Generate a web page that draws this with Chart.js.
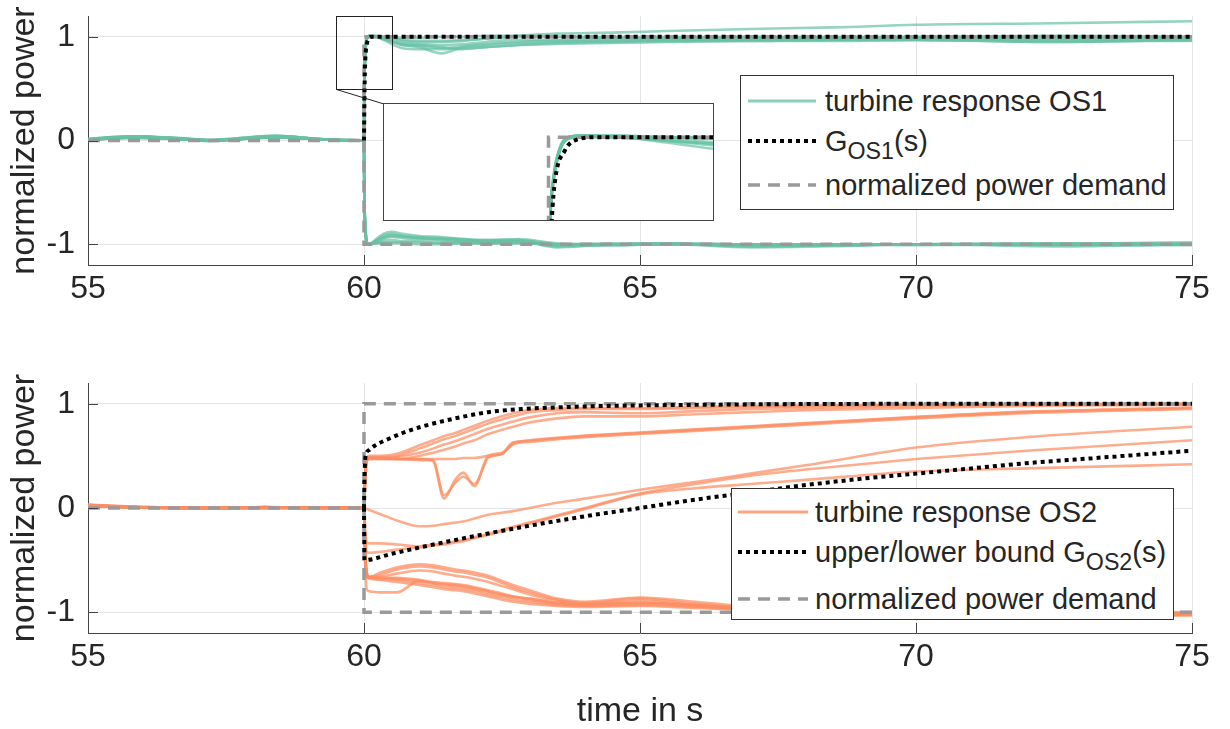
<!DOCTYPE html>
<html>
<head>
<meta charset="utf-8">
<title>Turbine response OS1 / OS2</title>
<script src="https://cdn.jsdelivr.net/npm/chart.js"></script>
<style>
    body {
        margin: 0;
        background: #fff;
        font-family: 'Liberation Sans', Arial, sans-serif;
        color: #262626;
    }
    #page { position: relative; width: 1230px; height: 729px; overflow: hidden; }
    .plot { position: absolute; left: 0; width: 1230px; }
    #topPlot { top: 0; height: 300px; }
    #bottomPlot { top: 370px; height: 359px; }
    #inset {
        position: absolute; left: 383px; top: 103px;
        width: 329px; height: 116px;
        border: 1px solid #444; background: #fff;
    }
    .legend {
        position: absolute; background: #fff; border: 1px solid #333;
        font-size: 29px;
    }
    .row {
        position: absolute; left: 0; right: 0; height: 40px;
        display: flex; align-items: center; white-space: nowrap;
    }
    .row svg { flex: none; }
    sub { font-size: 0.8em; vertical-align: -0.35em; line-height: 0; }
</style>
</head>
<body>
<div id="page">
    <div class="plot" id="topPlot"><canvas id="topChart"></canvas></div>
    <div class="plot" id="bottomPlot"><canvas id="bottomChart"></canvas></div>
    <div id="inset"><canvas id="insetChart"></canvas></div>

    <!-- top legend -->
    <div class="legend" style="left:740px; top:75px; width:432px; height:133px;">
        <div class="row" style="top:5px;">
            <svg width="77" height="10" style="margin-left:7px"><line x1="0" y1="5" x2="68" y2="5" stroke="rgba(102,194,165,0.75)" stroke-width="3"/></svg>
            <span>turbine response OS1</span>
        </div>
        <div class="row" style="top:45px;">
            <svg width="77" height="10" style="margin-left:7px"><line x1="0" y1="5" x2="68" y2="5" stroke="#000" stroke-width="4" stroke-dasharray="4 4"/></svg>
            <span>G<sub>OS1</sub>(s)</span>
        </div>
        <div class="row" style="top:89px;">
            <svg width="77" height="10" style="margin-left:7px"><line x1="0" y1="5" x2="68" y2="5" stroke="#999" stroke-width="3.5" stroke-dasharray="12 8"/></svg>
            <span>normalized power demand</span>
        </div>
    </div>

    <!-- bottom legend -->
    <div class="legend" style="left:731px; top:488px; width:441px; height:130px;">
        <div class="row" style="top:3px;">
            <svg width="77" height="10" style="margin-left:6px"><line x1="0" y1="5" x2="70" y2="5" stroke="rgba(252,141,98,0.8)" stroke-width="3"/></svg>
            <span>turbine response OS2</span>
        </div>
        <div class="row" style="top:43px;">
            <svg width="77" height="10" style="margin-left:6px"><line x1="0" y1="5" x2="70" y2="5" stroke="#000" stroke-width="4" stroke-dasharray="4 4"/></svg>
            <span>upper/lower bound G<sub>OS2</sub>(s)</span>
        </div>
        <div class="row" style="top:90px;">
            <svg width="77" height="10" style="margin-left:6px"><line x1="0" y1="5" x2="70" y2="5" stroke="#999" stroke-width="3.5" stroke-dasharray="12 8"/></svg>
            <span>normalized power demand</span>
        </div>
    </div>
</div>

<script>
// ---------- axes ----------
const xTicks = [55, 60, 65, 70, 75];
const yTicks = [-1, 0, 1];
const insetX = [59.5, 60.5];
const insetY = [0.5, 1.2];

// ---------- OS1 (top) ----------
const tTop = [55, 55.8, 56.6, 57.2, 58.4, 59.2, 59.8, 60, 60.005, 60.015, 60.035, 60.06, 60.1,
              60.2, 60.35, 60.5, 60.7, 61, 61.4, 61.8, 62.2, 62.8, 63.5, 64.5, 65.5, 67, 68.5, 70, 72.5, 75];

const os1Up = [
    [0.01,0.035,0.02,0.0,0.035,0.01,0.0,0, 0.5,0.75,0.93,1.0,1.01, 1.0,1.0,0.99,0.96,0.95,0.95,0.96,0.98,1.01,1.03,1.04,1.055,1.075,1.09,1.115,1.13,1.15],
    [0.01,0.03,0.015,0.005,0.03,0.01,0.005,0, 0.48,0.73,0.92,0.99,1.01, 1.01,1.0,1.0,0.99,0.99,1.0,1.0,1.01,1.01,1.0,1.0,1.0,1.0,0.99,1.0,1.0,1.0],
    [0.015,0.04,0.02,0.0,0.045,0.015,0.0,0, 0.5,0.76,0.94,1.0,1.01, 1.0,0.98,0.96,0.92,0.9,0.84,0.9,0.92,0.94,0.95,0.96,0.96,0.97,0.97,0.97,0.95,0.97],
    [0.005,0.03,0.02,-0.005,0.035,0.01,0.0,0, 0.47,0.72,0.92,0.99,1.0, 1.0,0.97,0.93,0.89,0.88,0.88,0.89,0.9,0.92,0.93,0.94,0.95,0.96,0.96,0.97,0.96,0.96],
    [0.01,0.035,0.025,0.005,0.045,0.015,0.005,0, 0.5,0.75,0.93,1.0,1.01, 1.0,0.98,0.95,0.92,0.91,0.89,0.91,0.93,0.95,0.96,0.96,0.97,0.97,0.98,0.98,0.97,0.98],
    [0.01,0.025,0.015,0.0,0.035,0.01,0.0,0, 0.49,0.74,0.93,1.0,1.01, 1.0,0.99,0.97,0.94,0.93,0.92,0.93,0.95,0.97,0.97,0.98,0.98,0.99,0.99,0.99,0.98,0.99],
    [0.01,0.035,0.02,0.0,0.03,0.01,0.0,0, 0.5,0.76,0.94,1.0,1.01, 1.01,1.0,0.99,0.97,0.96,0.96,0.97,0.98,1.0,1.0,0.99,0.99,1.0,1.0,1.0,1.01,1.0],
    [0.015,0.04,0.02,0.0,0.04,0.015,0.0,0, 0.48,0.73,0.92,0.99,1.0, 1.0,0.98,0.96,0.93,0.92,0.9,0.88,0.9,0.92,0.94,0.95,0.96,0.96,0.97,0.97,0.95,0.97]
];

const os1Down = [
    [0.01,0.035,0.02,0.0,0.035,0.01,0.0,0, -0.46,-0.73,-0.92,-0.99,-1.0, -0.96,-0.9,-0.88,-0.9,-0.92,-0.93,-0.95,-0.96,-0.95,-0.99,-1.0,-0.99,-1.0,-1.0,-1.0,-0.99,-1.0],
    [0.005,0.03,0.015,-0.005,0.035,0.01,0.0,0, -0.45,-0.72,-0.91,-0.99,-1.0, -0.97,-0.92,-0.9,-0.92,-0.93,-0.94,-0.95,-0.97,-0.96,-1.01,-1.0,-0.99,-1.02,-1.01,-1.0,-1.0,-1.0],
    [0.01,0.04,0.02,0.0,0.04,0.015,0.0,0, -0.47,-0.74,-0.93,-1.0,-1.0, -0.98,-0.95,-0.93,-0.94,-0.95,-0.95,-0.96,-0.97,-0.97,-1.03,-1.0,-1.0,-1.03,-1.02,-1.0,-1.01,-1.01],
    [0.01,0.025,0.015,0.0,0.03,0.01,0.0,0, -0.48,-0.75,-0.94,-1.0,-0.99, -0.99,-0.98,-0.98,-0.98,-0.98,-0.99,-0.99,-0.99,-0.98,-1.0,-1.0,-1.0,-1.01,-1.0,-1.0,-1.0,-0.99],
    [0.015,0.035,0.025,0.005,0.045,0.015,0.005,0, -0.46,-0.73,-0.92,-0.99,-0.99, -0.99,-0.97,-0.96,-0.97,-0.97,-0.98,-0.98,-0.99,-0.99,-1.0,-0.99,-1.0,-1.0,-1.01,-1.0,-0.99,-1.0],
    [0.01,0.03,0.02,0.0,0.035,0.01,0.0,0, -0.47,-0.74,-0.93,-1.0,-1.0, -0.98,-0.94,-0.92,-0.93,-0.94,-0.96,-0.97,-0.98,-0.97,-1.02,-1.01,-1.0,-1.01,-1.0,-1.0,-1.02,-1.0],
    [0.005,0.03,0.02,0.0,0.035,0.01,0.0,0, -0.48,-0.75,-0.94,-1.0,-1.0, -0.99,-0.99,-0.99,-0.99,-1.0,-1.0,-0.99,-0.99,-0.99,-1.0,-1.0,-0.99,-1.0,-1.0,-1.01,-1.0,-0.98],
    [0.01,0.035,0.02,0.0,0.035,0.01,0.0,0, -0.46,-0.73,-0.92,-0.99,-1.0, -0.97,-0.93,-0.91,-0.92,-0.94,-0.95,-0.96,-0.96,-0.96,-1.0,-1.01,-1.0,-1.02,-1.01,-1.0,-1.0,-1.0]
];

const tG1 = [60, 60.01, 60.02, 60.05, 60.08, 60.15, 75];
const gOS1 = [0, 0.5, 0.74, 0.92, 0.98, 1.0, 1.0];

// ---------- power demand (both plots) ----------
const tDemUp = [55, 60, 60, 75];
const demUp = [0, 0, 1, 1];
const tDemDown = [60, 60, 75];
const demDown = [0, -1, -1];

// ---------- OS2 (bottom) ----------
const tBot = [55, 55.8, 56.6, 57.4, 58.2, 59, 59.6, 60, 60.02, 60.05, 60.1, 60.3, 60.6, 61, 61.25, 61.45,
              61.65, 61.8, 62, 62.25, 62.5, 62.7, 63, 63.5, 64, 65, 66, 67, 68, 70, 72, 75];

const os2Up = [
    [0.02,0.01,0.005,0.0,0.005,0.0,0.005,0, 0.3,0.48,0.5,0.5,0.52,0.6,0.65,0.69,0.72,0.75,0.79,0.84,0.88,0.91,0.94,0.96,0.96,0.96,0.97,0.98,0.98,0.99,1.0,1.0],
    [0.03,0.015,0.0,-0.005,0.01,0.0,0.0,0, 0.28,0.47,0.49,0.49,0.5,0.57,0.62,0.66,0.69,0.72,0.76,0.81,0.85,0.88,0.92,0.94,0.95,0.95,0.96,0.97,0.98,0.99,0.99,1.0],
    [0.02,0.005,0.005,0.0,0.0,0.005,0.0,0, 0.28,0.46,0.48,0.48,0.49,0.53,0.57,0.61,0.64,0.67,0.71,0.76,0.8,0.83,0.87,0.91,0.92,0.91,0.93,0.95,0.96,0.98,0.99,1.0],
    [0.025,0.01,0.0,0.0,0.01,0.0,0.005,0, 0.27,0.45,0.47,0.47,0.47,0.5,0.53,0.56,0.59,0.62,0.65,0.71,0.75,0.78,0.82,0.86,0.88,0.88,0.9,0.92,0.94,0.96,0.98,0.99],
    [0.02,0.01,0.005,0.005,0.0,0.0,0.0,0, 0.28,0.46,0.48,0.48,0.47,0.47,0.47,0.47,0.47,0.48,0.48,0.5,0.52,0.63,0.645,0.67,0.69,0.72,0.75,0.78,0.81,0.87,0.92,0.96],
    [0.03,0.01,0.0,0.0,0.005,0.0,0.0,0, 0.28,0.46,0.48,0.48,0.47,0.47,0.45,0.09,0.27,0.34,0.21,0.5,0.53,0.62,0.65,0.675,0.695,0.725,0.755,0.785,0.815,0.875,0.925,0.965],
    [0.02,0.005,0.0,-0.005,0.005,0.005,0.0,0, 0.27,0.45,0.47,0.47,0.47,0.46,0.46,0.12,0.24,0.3,0.23,0.48,0.52,0.61,0.635,0.66,0.68,0.71,0.74,0.77,0.8,0.86,0.91,0.95],
    [0.02,0.01,0.005,0.0,0.005,0.0,0.0,0, -0.005,-0.01,-0.02,-0.06,-0.12,-0.175,-0.17,-0.155,-0.14,-0.13,-0.1,-0.065,-0.045,-0.03,0.0,0.05,0.09,0.175,0.25,0.33,0.41,0.58,0.68,0.78],
    [0.025,0.01,0.0,0.0,0.01,0.0,0.0,0, -0.2,-0.33,-0.34,-0.34,-0.35,-0.37,-0.35,-0.34,-0.32,-0.31,-0.28,-0.25,-0.21,-0.18,-0.14,-0.07,0.0,0.14,0.23,0.31,0.37,0.47,0.55,0.65],
    [0.02,0.005,0.005,0.0,0.0,0.0,0.005,0, -0.25,-0.42,-0.43,-0.42,-0.4,-0.38,-0.36,-0.35,-0.33,-0.32,-0.29,-0.26,-0.22,-0.19,-0.15,-0.08,-0.01,0.13,0.19,0.23,0.27,0.35,0.38,0.42]
];

const os2Down = [
    [0.02,0.01,0.0,0.0,0.005,0.0,0.0,0, -0.4,-0.62,-0.66,-0.62,-0.57,-0.54,-0.55,-0.57,-0.59,-0.6,-0.62,-0.65,-0.7,-0.74,-0.79,-0.87,-0.9,-0.86,-0.9,-0.95,-0.98,-1.0,-1.0,-1.01],
    [0.03,0.01,0.005,-0.005,0.0,0.0,0.0,0, -0.4,-0.63,-0.66,-0.64,-0.59,-0.56,-0.57,-0.59,-0.61,-0.62,-0.64,-0.67,-0.72,-0.76,-0.81,-0.88,-0.91,-0.87,-0.92,-0.96,-0.99,-1.01,-1.02,-1.02],
    [0.02,0.005,0.0,0.0,0.01,0.005,0.0,0, -0.4,-0.64,-0.67,-0.66,-0.63,-0.6,-0.61,-0.63,-0.65,-0.66,-0.68,-0.71,-0.75,-0.78,-0.83,-0.89,-0.92,-0.89,-0.93,-0.97,-1.0,-1.02,-1.01,-1.03],
    [0.025,0.01,0.005,0.0,0.0,0.0,0.005,0, -0.4,-0.64,-0.67,-0.67,-0.68,-0.7,-0.72,-0.74,-0.75,-0.76,-0.78,-0.81,-0.84,-0.86,-0.88,-0.92,-0.93,-0.92,-0.94,-0.97,-0.99,-1.01,-1.03,-1.02],
    [0.02,0.01,0.0,0.005,0.005,0.0,0.0,0, -0.4,-0.65,-0.67,-0.68,-0.69,-0.72,-0.74,-0.76,-0.77,-0.78,-0.8,-0.83,-0.86,-0.88,-0.9,-0.93,-0.94,-0.93,-0.95,-0.98,-1.0,-1.02,-1.02,-1.01],
    [0.03,0.005,0.0,0.0,0.005,0.005,0.0,0, -0.4,-0.64,-0.66,-0.67,-0.67,-0.69,-0.71,-0.72,-0.73,-0.74,-0.76,-0.79,-0.82,-0.85,-0.87,-0.91,-0.93,-0.91,-0.93,-0.96,-0.98,-1.0,-1.01,-1.0],
    [0.02,0.01,0.005,0.0,0.0,0.0,0.0,0, -0.4,-0.65,-0.68,-0.69,-0.71,-0.74,-0.76,-0.78,-0.79,-0.8,-0.82,-0.85,-0.88,-0.9,-0.92,-0.94,-0.95,-0.94,-0.96,-0.98,-1.0,-1.03,-1.04,-1.03],
    [0.025,0.01,0.0,-0.005,0.005,0.0,0.005,0, -0.5,-0.78,-0.8,-0.81,-0.81,-0.7,-0.72,-0.73,-0.74,-0.75,-0.77,-0.8,-0.83,-0.85,-0.87,-0.91,-0.92,-0.91,-0.94,-0.97,-0.99,-1.01,-1.02,-1.01]
];

const tG2up = [60, 60.01, 60.02, 60.04, 60.1, 60.2, 60.43, 60.7, 61.04, 61.65, 62.25, 62.85, 63.46, 64, 65, 66, 67, 70, 75];
const gOS2up = [0, 0.3, 0.45, 0.52, 0.56, 0.6, 0.66, 0.72, 0.78, 0.86, 0.92, 0.95, 0.965, 0.975, 0.985, 0.99, 0.995, 1.0, 1.0];
const tG2low = [60, 60.01, 60.5, 61, 62, 63, 64, 65, 66, 67, 68, 69, 70, 71, 72, 73, 74, 75];
const gOS2low = [0, -0.5, -0.44, -0.38, -0.27, -0.17, -0.08, 0.0, 0.08, 0.15, 0.22, 0.28, 0.33, 0.38, 0.43, 0.47, 0.51, 0.55];

// ---------- styles ----------
const GREEN = 'rgba(102,194,165,0.7)';
const ORANGE = 'rgba(252,141,98,0.72)';
const DEMAND = '#999999';
const TEXT = '#262626';
const AXIS = '#444444';
const GRID = '#e4e4e4';
const FONT = "'Liberation Sans', Arial, sans-serif";

function curve(xs, ys, color, width, order) {
    return {
        data: xs.map((x, i) => ({ x: x, y: ys[i] })),
        borderColor: color, borderWidth: width,
        pointRadius: 0, fill: false,
        cubicInterpolationMode: 'monotone',
        order: order
    };
}
function dotted(xs, ys) {
    const d = curve(xs, ys, '#000', 4, 0);
    d.borderDash = [4, 4];
    return d;
}
function dashed(xs, ys) {
    return {
        data: xs.map((x, i) => ({ x: x, y: ys[i] })),
        borderColor: DEMAND, borderWidth: 3.5, borderDash: [12, 8],
        pointRadius: 0, fill: false, tension: 0, order: 1
    };
}

// inward tick marks like the original axes
const innerTicks = {
    id: 'innerTicks',
    afterDraw(chart) {
        const { ctx, chartArea: a, scales: { x, y } } = chart;
        ctx.save();
        ctx.strokeStyle = AXIS;
        ctx.lineWidth = 1;
        ctx.beginPath();
        x.ticks.forEach(t => {
            const px = Math.round(x.getPixelForValue(t.value)) + 0.5;
            ctx.moveTo(px, a.bottom); ctx.lineTo(px, a.bottom - 10);
        });
        y.ticks.forEach(t => {
            const py = Math.round(y.getPixelForValue(t.value)) + 0.5;
            ctx.moveTo(a.left, py); ctx.lineTo(a.left + 10, py);
        });
        ctx.stroke();
        ctx.restore();
    }
};

// rectangle marking the zoomed region + connector to the inset
const zoomBox = {
    id: 'zoomBox',
    afterDatasetsDraw(chart) {
        const { ctx, scales: { x, y } } = chart;
        const x0 = Math.round(x.getPixelForValue(insetX[0])) + 0.5;
        const x1 = Math.round(x.getPixelForValue(insetX[1])) + 0.5;
        const y0 = Math.round(y.getPixelForValue(insetY[1])) + 0.5;
        const y1 = Math.round(y.getPixelForValue(insetY[0])) + 0.5;
        ctx.save();
        ctx.strokeStyle = '#222';
        ctx.lineWidth = 1;
        ctx.strokeRect(x0, y0, x1 - x0, y1 - y0);
        ctx.beginPath();
        ctx.moveTo(x0, y1);
        ctx.lineTo(384, 104);
        ctx.stroke();
        ctx.restore();
    }
};

function axes(xHeight, xTitle) {
    const tickFont = { family: FONT, size: 32 };
    const x = {
        type: 'linear', min: 55, max: 75,
        afterBuildTicks: s => { s.ticks = xTicks.map(v => ({ value: v })); },
        afterFit: s => { s.height = xHeight; s.paddingLeft = 0; s.paddingRight = 0; },
        grid: { color: GRID, drawTicks: false },
        border: { color: AXIS },
        ticks: { font: tickFont, color: TEXT, padding: 5, maxRotation: 0, autoSkip: false }
    };
    if (xTitle) {
        x.title = { display: true, text: xTitle, color: TEXT,
                    font: { family: FONT, size: 34, lineHeight: 1.0 }, padding: { top: 0, bottom: 0 } };
    }
    const y = {
        min: -1.2, max: 1.2,
        afterBuildTicks: s => { s.ticks = yTicks.map(v => ({ value: v })); },
        afterFit: s => { s.width = 88; s.paddingTop = 0; s.paddingBottom = 0; },
        grid: { color: GRID, drawTicks: false },
        border: { color: AXIS },
        ticks: { font: tickFont, color: TEXT, padding: 13, callback: v => String(v) },
        title: { display: true, text: 'normalized power', color: TEXT,
                 font: { family: FONT, size: 34 }, padding: { top: 4, bottom: 0 } }
    };
    return { x, y };
}

function baseOptions(scales, padTop) {
    return {
        responsive: true, maintainAspectRatio: false,
        animation: false, events: [],
        layout: { padding: { top: padTop, right: 38, left: 0, bottom: 0 } },
        plugins: { legend: { display: false }, tooltip: { enabled: false } },
        scales: scales
    };
}

// ---------- top chart ----------
const topSets = [dotted(tG1, gOS1), dashed(tDemUp, demUp), dashed(tDemDown, demDown)];
os1Up.forEach(ys => topSets.push(curve(tTop, ys, GREEN, 2.6, 2)));
os1Down.forEach(ys => topSets.push(curve(tTop, ys, GREEN, 2.6, 2)));

new Chart(document.getElementById('topChart'), {
    type: 'line',
    data: { datasets: topSets },
    options: baseOptions(axes(35, null), 16),
    plugins: [innerTicks, zoomBox]
});

// ---------- inset ----------
const insetSets = [dotted(tG1, gOS1), dashed(tDemUp, demUp)];
os1Up.forEach(ys => insetSets.push(curve(tTop, ys, GREEN, 2.6, 2)));

new Chart(document.getElementById('insetChart'), {
    type: 'line',
    data: { datasets: insetSets },
    options: {
        responsive: true, maintainAspectRatio: false,
        animation: false, events: [],
        layout: { padding: 0 },
        plugins: { legend: { display: false }, tooltip: { enabled: false } },
        scales: {
            x: { type: 'linear', min: insetX[0], max: insetX[1], display: false },
            y: { min: insetY[0], max: insetY[1], display: false }
        }
    }
});

// ---------- bottom chart ----------
const botSets = [dotted(tG2up, gOS2up), dotted(tG2low, gOS2low), dashed(tDemUp, demUp), dashed(tDemDown, demDown)];
os2Up.forEach(ys => botSets.push(curve(tBot, ys, ORANGE, 2.6, 2)));
os2Down.forEach(ys => botSets.push(curve(tBot, ys, ORANGE, 2.6, 2)));

new Chart(document.getElementById('bottomChart'), {
    type: 'line',
    data: { datasets: botSets },
    options: baseOptions(axes(96, 'time in s'), 13),
    plugins: [innerTicks]
});
</script>
</body>
</html>
